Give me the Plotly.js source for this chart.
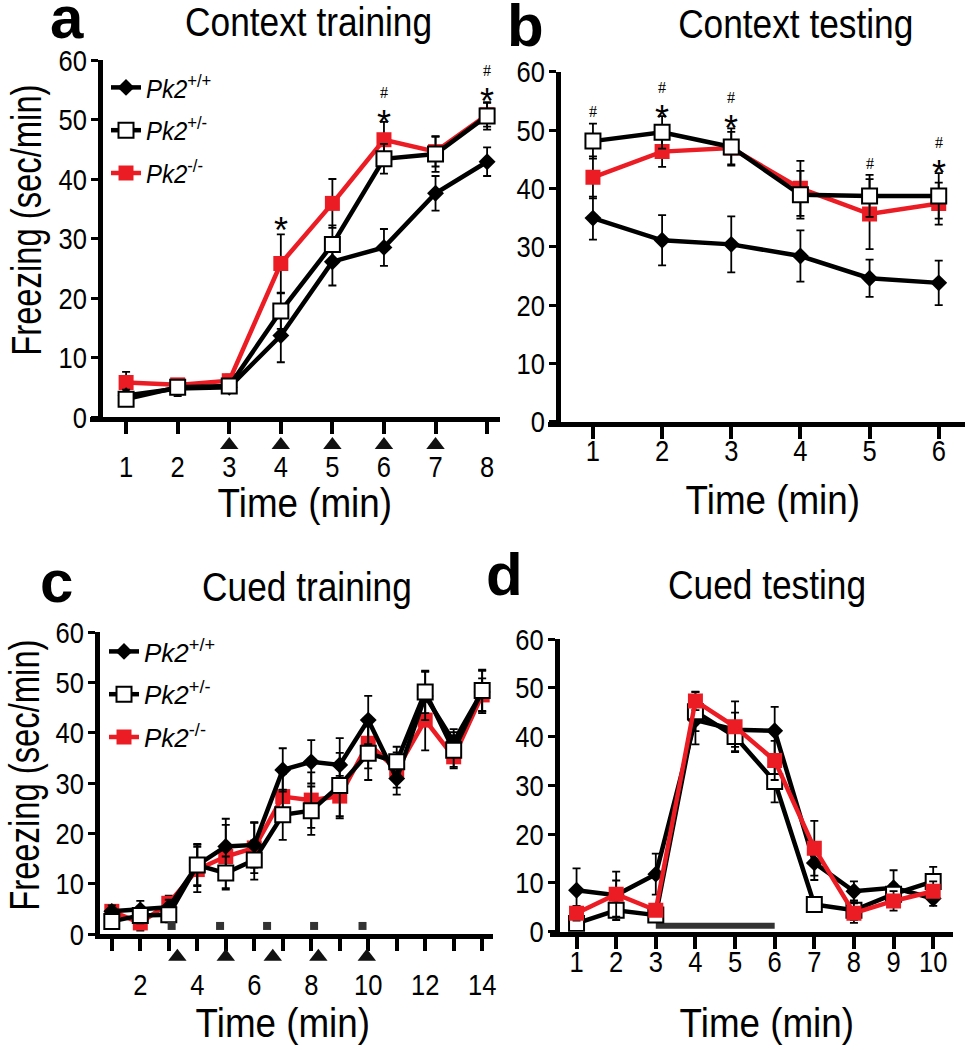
<!DOCTYPE html>
<html><head><meta charset="utf-8">
<script src="https://cdn.plot.ly/plotly-3.0.1.min.js"></script>
<style>body{margin:0;background:#fff}</style>
</head><body><div id="chart" style="width:965px;height:1050px"></div>
<script>
// ---------- Panel a: Context training ----------
const timeA = [1,2,3,4,5,6,7,8];
const wtA = [3.6,4.8,5.0,13.7,26.1,28.5,37.6,42.9];
const wtAErr = [1.0,1.3,0.8,4.5,4.0,3.1,2.9,2.4];
const hetA = [3.0,5.0,5.2,17.8,29.0,43.4,44.2,50.6];
const hetAErr = [1.0,1.2,0.8,3.0,3.2,2.5,3.0,2.3];
const koA = [5.8,5.4,6.1,25.8,35.9,46.6,44.6,50.8];
const koAErr = [1.8,1.0,1.0,4.9,4.1,3.0,2.5,2.0];
const shockA = [3,4,5,6,7];
const starSoloAx = [4], starSoloAy = [31.3];
const starAx = [6,8], starAy = [53.0,56.6];      // star sits below this level
const hashAx = [6,8], hashAy = [53.0,56.6];      // hash sits above this level

// ---------- Panel b: Context testing ----------
const timeB = [1,2,3,4,5,6];
const wtB = [34.9,31.1,30.4,28.4,24.6,23.8];
const wtBErr = [3.7,4.3,4.8,4.4,3.2,3.8];
const hetB = [48.1,49.6,47.1,38.9,38.7,38.7];
const hetBErr = [3.0,2.8,3.2,4.1,3.6,3.9];
const koB = [41.9,46.3,46.9,40.0,35.6,37.4];
const koBErr = [3.6,2.6,2.8,4.7,6.0,3.6];
const starBx = [2,3,6], starBy = [55.6,53.9,46.3];
const hashBx = [2,3,6], hashBy = [55.6,53.9,46.3];
const hashSoloBx = [1,5], hashSoloBy = [53.1,44.3];

// ---------- Panel c: Cued training ----------
const timeC = [1,2,3,4,5,6,7,8,9,10,11,12,13,14];
const wtC = [4.5,4.8,5.3,13.7,17.4,17.7,32.6,34.2,33.6,42.5,30.9,47.3,38.2,48.1];
const wtCErr = [1.2,1.8,1.5,4.0,5.5,4.5,4.3,4.3,5.3,4.8,3.2,4.8,2.5,4.2];
const hetC = [2.5,3.7,3.8,13.7,12.1,14.7,23.7,24.5,29.5,35.9,34.2,48.1,36.5,48.4];
const hetCErr = [1.5,1.6,1.5,4.2,3.3,3.9,5.0,4.8,6.5,5.3,3.0,4.2,3.6,4.1];
const koC = [4.5,2.2,6.1,12.8,15.4,17.1,27.3,26.6,27.4,37.9,32.6,42.5,35.2,47.5];
const koCErr = [1.2,1.5,1.5,4.5,6.3,5.0,4.5,5.5,4.0,5.0,3.5,6.0,2.0,3.3];
const toneC = [3.1,4.8,6.45,8.1,9.8];
const shockC = [3.3,5.0,6.65,8.25,9.95];
const majorTicksC = [2,4,6,8,10,12,14];
const minorTicksC = [1,3,5,7,9,11,13];

// ---------- Panel d: Cued testing ----------
const timeD = [1,2,3,4,5,6,7,8,9,10];
const wtD = [8.5,7.5,11.8,43.4,41.4,41.2,14.1,8.3,9.0,6.8];
const wtDErr = [4.5,3.0,4.2,5.0,3.5,4.9,3.5,2.0,3.6,1.5];
const hetD = [1.7,4.4,3.4,45.1,40.0,30.8,5.6,4.4,7.7,10.3];
const hetDErr = [1.0,2.0,1.0,4.0,3.0,4.3,1.0,2.0,2.0,3.0];
const koD = [3.8,7.7,4.4,47.3,42.0,35.1,17.1,3.8,6.3,8.3];
const koDErr = [1.5,4.6,1.0,1.9,5.2,4.0,5.6,2.0,2.0,2.0];
const toneD = [3,6];

const seriesSup = ['+/+','+/-','-/-'];
const yTicks = [0,10,20,30,40,50,60];

const F = 'Liberation Sans, Arial, sans-serif';
const RED = '#ec1c24';
const nm = i => '<i>Pk2</i><sup>' + seriesSup[i] + '</sup>';

function errBar(arr){ return {type:'data', array:arr, visible:true, color:'#000', thickness:1.8, width:4}; }
function wt(x,y,e,xa,ya,leg){
  return {x:x,y:y,xaxis:xa,yaxis:ya,type:'scatter',mode:'lines+markers',name:nm(0),
    legend:leg||'legend',showlegend:!!leg,legendrank:1,legendgroup:(leg||'')+'wt',
    line:{color:'#000',width:4.5},marker:{symbol:'diamond',size:13,color:'#000'},error_y:errBar(e)};
}
function het(x,y,e,xa,ya,leg){
  return {x:x,y:y,xaxis:xa,yaxis:ya,type:'scatter',mode:'lines+markers',name:nm(1),
    legend:leg||'legend',showlegend:!!leg,legendrank:2,legendgroup:(leg||'')+'het',
    line:{color:'#000',width:4.5},marker:{symbol:'square',size:15,color:'#fff',line:{color:'#000',width:2}},error_y:errBar(e)};
}
function ko(x,y,e,xa,ya,leg){
  return {x:x,y:y,xaxis:xa,yaxis:ya,type:'scatter',mode:'lines+markers',name:nm(2),
    legend:leg||'legend',showlegend:!!leg,legendrank:3,legendgroup:(leg||'')+'ko',
    line:{color:RED,width:4.5},marker:{symbol:'square',size:15,color:RED},error_y:errBar(e)};
}
function tri(x,xa,ya){
  return {x:x,y:x.map(()=>0.5),xaxis:xa,yaxis:ya,type:'scatter',mode:'markers',showlegend:false,
    marker:{symbol:'triangle-up',size:16,color:'#111'},hoverinfo:'skip'};
}

const data = [
  ko(timeA,koA,koAErr,'x','y','legend'), wt(timeA,wtA,wtAErr,'x','y','legend'), het(timeA,hetA,hetAErr,'x','y','legend'),
  tri(shockA,'x5','y5'),
  ko(timeB,koB,koBErr,'x2','y2'), wt(timeB,wtB,wtBErr,'x2','y2'), het(timeB,hetB,hetBErr,'x2','y2'),
  ko(timeC,koC,koCErr,'x3','y3','legend2'), wt(timeC,wtC,wtCErr,'x3','y3','legend2'), het(timeC,hetC,hetCErr,'x3','y3','legend2'),
  {x:toneC,y:toneC.map(()=>1.6),xaxis:'x3',yaxis:'y3',type:'scatter',mode:'markers',showlegend:false,cliponaxis:false,
    marker:{symbol:'square',size:8,color:'#333'},hoverinfo:'skip'},
  tri(shockC,'x6','y6'),
  {x:toneD,y:toneD.map(()=>1.2),xaxis:'x4',yaxis:'y4',type:'scatter',mode:'lines',showlegend:false,
    line:{color:'#333',width:6},hoverinfo:'skip'},
  wt(timeD,wtD,wtDErr,'x4','y4'), het(timeD,hetD,hetDErr,'x4','y4'), ko(timeD,koD,koDErr,'x4','y4')
];

const W = 965, H = 1050;
const px = v => v / W, py = v => 1 - v / H;

function xax(dom, rng, tv, standoff, anchor){
  return {domain:[px(dom[0]),px(dom[1])], range:rng, anchor:anchor, showline:true, linewidth:5, linecolor:'#000',
    ticks:'outside', ticklen:12, tickwidth:4, tickcolor:'#000', tickmode:'array', tickvals:tv,
    ticklabelstandoff:standoff, showgrid:false, zeroline:false,
    tickfont:{family:F,size:30,color:'#000'}, fixedrange:true};
}
function yax(dom, pos){
  return {domain:[py(dom[1]),py(dom[0])], range:[0,60], anchor:'free', position:px(pos),
    showline:true, linewidth:5, linecolor:'#000', ticks:'outside', ticklen:7, tickwidth:3, tickcolor:'#000',
    tickmode:'array', tickvals:yTicks, showgrid:false, zeroline:false, ticklabelstandoff:-2,
    tickfont:{family:F,size:30,color:'#000'}, fixedrange:true};
}
function hiddenX(dom, rng, anchor){ return {domain:[px(dom[0]),px(dom[1])], range:rng, anchor:anchor, visible:false, fixedrange:true}; }
function hiddenY(top, bottom, anchor){ return {domain:[py(bottom),py(top)], range:[0,1], anchor:anchor, visible:false, fixedrange:true}; }

const ann = [];
function txt(t,x,y,size,opt){ ann.push(Object.assign({text:t,x:x,y:y,xref:'paper',yref:'paper',showarrow:false,
  xanchor:'center',yanchor:'middle',font:{family:F,size:size,color:'#000'}},opt||{})); }
// panel letters
txt('<b>a</b>',px(67),py(18),60,{borderpad:0});
txt('<b>b</b>',px(525),py(25),60,{borderpad:0});
txt('<b>c</b>',px(56),py(581),60,{borderpad:0});
txt('<b>d</b>',px(504),py(574),60,{borderpad:0});
// titles
txt('Context training',px(308),py(22),41);
txt('Context testing',px(796),py(24),41);
txt('Cued training',px(307),py(587),41);
txt('Cued testing',px(767),py(585),41);
// axis titles
txt('Time (min)',px(305),py(503),40);
txt('Time (min)',px(773),py(500),40);
txt('Time (min)',px(283),py(1023),40);
txt('Time (min)',px(767),py(1023),40);
txt('Freezing (sec/min)',px(26),py(220),42,{textangle:-90});
txt('Freezing (sec/min)',px(24),py(775),42,{textangle:-90});
// significance marks
function sig(xs,ys,sym,xr,yr,size,fam,anchor){ xs.forEach((x,i)=>ann.push({text:sym,x:x,y:ys[i],xref:xr,yref:yr,showarrow:false,
  xanchor:'center',yanchor:anchor,borderpad:0,font:{family:fam,size:size,color:'#000'}})); }
const SER = 'Liberation Serif, serif';
sig(starSoloAx,starSoloAy,'*','x','y',36,F,'middle');
sig(starAx,starAy,'*','x','y',36,F,'top');
sig(hashAx,hashAy,'#','x','y',16,SER,'bottom');
sig(starBx,starBy,'*','x2','y2',36,F,'top');
sig(hashBx,hashBy,'#','x2','y2',16,SER,'bottom');
sig(hashSoloBx,hashSoloBy,'#','x2','y2',16,SER,'middle');

const legendBase = {bgcolor:'rgba(0,0,0,0)',font:{family:F,size:26,color:'#000'},tracegroupgap:6,
  xanchor:'left',yanchor:'top',itemwidth:30};

const layout = {
  width:W, height:H, autosize:false, margin:{l:0,r:0,t:0,b:0},
  paper_bgcolor:'#fff', plot_bgcolor:'rgba(0,0,0,0)', showlegend:true,
  xaxis: xax([90,500],[0.3,8.25],timeA,7,'y'),
  yaxis: yax([60,417],100),
  xaxis2: xax([548,965],[0.35,6.38],timeB,-14,'y2'),
  yaxis2: yax([71.7,421.7],558),
  xaxis3: Object.assign(xax([95,493],[0.41,14.38],majorTicksC,8,'y3'),
    {minor:{ticks:'outside',ticklen:12,tickwidth:4,tickcolor:'#000',tickmode:'array',tickvals:minorTicksC,showgrid:false}}),
  yaxis3: yax([632,934],97),
  xaxis4: xax([550,953],[0.33,10.5],timeD,-13,'y4'),
  yaxis4: yax([639,931.7],556.7),
  xaxis5: hiddenX([90,500],[0.3,8.25],'y5'),
  yaxis5: hiddenY(432,458,'x5'),
  xaxis6: hiddenX([95,493],[0.41,14.38],'y6'),
  yaxis6: hiddenY(945,968.4,'x6'),
  legend: Object.assign({x:px(106),y:py(64)},legendBase),
  legend2: Object.assign({x:px(104),y:py(628)},legendBase),
  annotations: ann
};

function squeeze(el, f){
  const L = el.getComputedTextLength();
  if (L > 0) { el.setAttribute('textLength', (L*f).toFixed(1)); el.setAttribute('lengthAdjust','spacingAndGlyphs'); }
}
Plotly.newPlot('chart', data, layout, {displayModeBar:false, staticPlot:true}).then(() => {
  const root = document.getElementById('chart');
  root.querySelectorAll('g[class$="tick"] > text').forEach(t => squeeze(t, 0.85));
  root.querySelectorAll('text.legendtext').forEach(t => squeeze(t, 0.92));
  root.querySelectorAll('text.annotation-text').forEach(t => {
    const s = t.textContent;
    if (s.indexOf('Freezing') === 0) squeeze(t, 0.78);
    else if (s.indexOf('Time') === 0) squeeze(t, 0.92);
    else if (s.length > 3) squeeze(t, 0.86);
  });
});
</script>
</body></html>
